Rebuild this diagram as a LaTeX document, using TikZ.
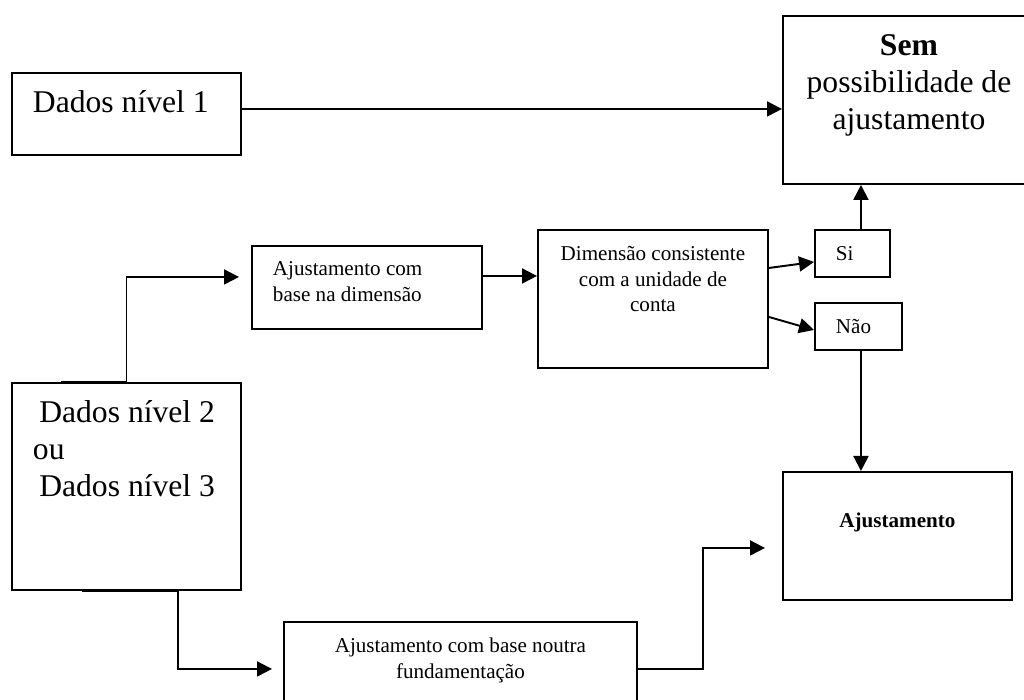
\documentclass[tikz,border=0pt]{standalone}
\usepackage{fontspec}
\setmainfont{Liberation Serif}
\usetikzlibrary{arrows.meta, calc}

\begin{document}
\begin{tikzpicture}[>={Triangle[length=3mm, width=3mm]}, line width=1.1pt,
  caixa/.style={draw, inner ysep=0pt, inner xsep=0.42cm, anchor=north west},
  grande/.style={font=\fontsize{18}{21}\selectfont},
  pequeno/.style={font=\fontsize{12}{14.5}\selectfont}]
  \useasboundingbox (0,0) rectangle (20.48,14);
  % caixas da esquerda
  \node[caixa, grande, text width=3.74cm, align=flush left, text height=0.8cm, text depth=0.84cm]
    (d1) at (0.22,12.56) {Dados nível~1};
  \node[caixa, grande, text width=3.74cm, align=flush left, text height=0.8cm, text depth=3.34cm]
    (d23) at (0.22,6.36) {\hspace*{0.2em}Dados nível~2\\ou\\\hspace*{0.2em}Dados nível~3};
  % caixas do meio
  \node[caixa, pequeno, text width=3.76cm, align=flush left, text height=0.6cm, text depth=1.06cm]
    (dim) at (5.02,9.1) {Ajustamento com\\base na dimensão};
  \node[caixa, pequeno, inner xsep=0pt, text width=4.6cm, align=flush center, text height=0.62cm, text depth=2.14cm]
    (cons) at (10.74,9.42) {Dimensão consistente\\com a unidade de\\conta};
  \node[caixa, pequeno, inner xsep=0pt, text width=7.06cm, align=flush center, text height=0.62cm, text depth=1.26cm]
    (out) at (5.66,1.58) {Ajustamento com base noutra\\fundamentação};
  % sim / não
  \node[caixa, pequeno, text width=0.66cm, align=flush left, text height=0.62cm, text depth=0.32cm]
    (si) at (16.28,9.42) {Si};
  \node[caixa, pequeno, text width=0.9cm, align=flush left, text height=0.62cm, text depth=0.32cm]
    (nao) at (16.28,7.96) {Não};
  % caixas da direita
  \node[caixa, grande, inner xsep=0pt, text width=5.04cm, align=flush center, text height=0.8cm, text depth=2.56cm]
    (sem) at (15.64,13.7) {\textbf{Sem}\\possibilidade de\\ajustamento};
  \node[caixa, pequeno, inner xsep=0pt, text width=4.58cm, align=flush center, text height=1.12cm, text depth=1.44cm]
    (aj) at (15.64,4.58) {\textbf{Ajustamento}};
  % ligações
  \draw[->] ([yshift=1mm]d1.east) -- ([yshift=1mm]d1.east -| sem.west);
  \draw[->, shorten >=2.4mm] ([xshift=-1.3cm]d23.north) -- (d23.north) |- ([yshift=2.1mm]dim.west);
  \draw[->] ([yshift=2.3mm]dim.east) -- ([yshift=2.3mm]dim.east -| cons.west);
  \draw[->] ([yshift=6.2mm]cons.east) -- ([yshift=-1.7mm]si.west);
  \draw[->] ([yshift=-3.6mm]cons.east) -- ([yshift=-0.7mm]nao.west);
  \draw[->] ([xshift=1.7mm]si.north) -- ([xshift=1.7mm]si.north |- sem.south);
  \draw[->] ([xshift=0.5mm]nao.south) -- ([xshift=0.5mm]nao.south |- aj.north);
  \draw[->, shorten >=2.2mm] ([xshift=-0.89cm]d23.south) -- ([xshift=1.03cm]d23.south) |- (out.west);
  \draw[->, shorten >=3.4mm] (out.east) -- ++(1.3,0) |- ([yshift=-2.4mm]aj.west);
\end{tikzpicture}
\end{document}
